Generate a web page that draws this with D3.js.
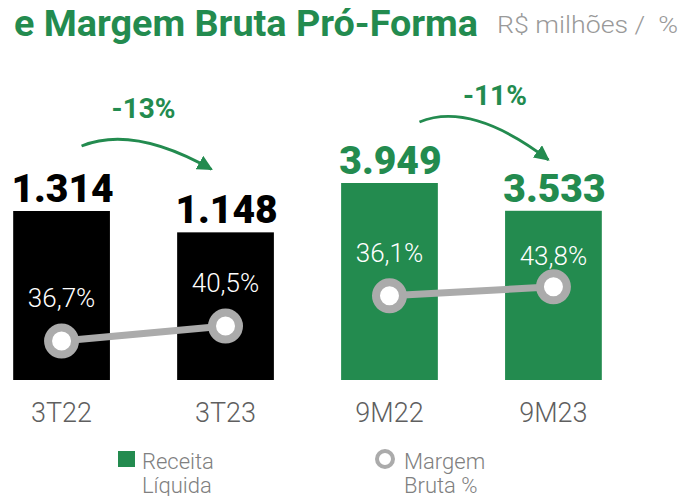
<!DOCTYPE html>
<html>
<head>
<meta charset="utf-8">
<script src="https://cdn.jsdelivr.net/npm/d3@7"></script>
<style>
  html, body { margin: 0; padding: 0; background: #fff; }
  svg { display: block; font-family: Roboto, "Noto Sans", sans-serif; }
</style>
</head>
<body>
<div id="chart"></div>
<script>
// values
var categories = ["3T22", "3T23", "9M22", "9M23"];
var periods = ["3T", "3T", "9M", "9M"];
var receita = [1314, 1148, 3949, 3533];
var receitaLabels = ["1.314", "1.148", "3.949", "3.533"];
var margem = [36.7, 40.5, 36.1, 43.8];
var margemLabels = ["36,7%", "40,5%", "36,1%", "43,8%"];
var variacao = ["-13%", "-11%"];

var green = "#238b4f";
var grey = "#ababab";

var width = 681, height = 496;

var svg = d3.select("#chart").append("svg")
  .attr("width", width)
  .attr("height", height);

// arrow marker
svg.append("defs").append("marker")
  .attr("id", "head")
  .attr("viewBox", "0 0 10 10")
  .attr("refX", 9).attr("refY", 5)
  .attr("markerWidth", 5.5).attr("markerHeight", 5.5)
  .attr("markerUnits", "strokeWidth")
  .attr("orient", "auto")
  .append("path")
  .attr("d", "M0,0 L10,5 L0,10 Z")
  .attr("fill", green);

// title (first line is cut off in the reference)
svg.append("text")
  .attr("x", 14).attr("y", 36)
  .attr("font-size", 37).attr("font-weight", 700)
  .attr("textLength", 464).attr("lengthAdjust", "spacingAndGlyphs")
  .attr("fill", green)
  .text("e Margem Bruta Pró-Forma");

svg.append("text")
  .attr("x", 497).attr("y", 33)
  .attr("font-size", 24).attr("font-weight", 300)
  .attr("textLength", 181).attr("lengthAdjust", "spacingAndGlyphs")
  .style("white-space", "pre")
  .attr("fill", "#999")
  .text("R$ milhões /  %");

// scales: one band scale, a separate value scale per period group
var x = d3.scaleBand()
  .domain(categories)
  .range([-36, 651])
  .paddingInner(0.41)
  .paddingOuter(0.3);

var yBar = {
  "3T": d3.scaleLinear().domain([0, 1314]).range([380, 211]),
  "9M": d3.scaleLinear().domain([1000, 3949]).range([380, 183])
};
var yPct = {
  "3T": d3.scaleLinear().domain([0, 100]).range([486, 91]),
  "9M": d3.scaleLinear().domain([0, 100]).range([338, 221])
};

var rows = categories.map(function(c, i) {
  var g = periods[i];
  return {
    cat: c, group: g, value: receita[i], label: receitaLabels[i],
    pct: margem[i], pctLabel: margemLabels[i],
    cx: x(c) + x.bandwidth() / 2,
    top: yBar[g](receita[i]),
    cy: yPct[g](margem[i]),
    color: g === "3T" ? "#000" : green
  };
});

// bars
svg.selectAll("rect.bar")
  .data(rows)
  .enter().append("rect")
  .attr("class", "bar")
  .attr("x", function(d) { return x(d.cat); })
  .attr("width", x.bandwidth())
  .attr("y", function(d) { return d.top; })
  .attr("height", function(d) { return 380 - d.top; })
  .attr("fill", function(d) { return d.color; });

// value labels
svg.selectAll("text.val")
  .data(rows)
  .enter().append("text")
  .attr("class", "val")
  .attr("x", function(d) { return d.cx + 1; })
  .attr("y", function(d) { return d.top - 9; })
  .attr("text-anchor", "middle")
  .attr("font-size", 39).attr("font-weight", 900)
  .attr("fill", function(d) { return d.color; })
  .text(function(d) { return d.label; });

// category labels
svg.selectAll("text.cat")
  .data(rows)
  .enter().append("text")
  .attr("class", "cat")
  .attr("x", function(d) { return d.cx; })
  .attr("y", 422)
  .attr("text-anchor", "middle")
  .attr("font-size", 27).attr("font-weight", 300)
  .attr("fill", "#5f5f5f")
  .text(function(d) { return d.cat; });

// margin lines per group
["3T", "9M"].forEach(function(g, k) {
  var pts = rows.filter(function(d) { return d.group === g; });
  svg.append("path")
    .attr("d", d3.line().x(function(d) { return d.cx; }).y(function(d) { return d.cy; })(pts))
    .attr("stroke", grey).attr("stroke-width", 7).attr("fill", "none");

  // variation arrow
  var a = pts[0], b = pts[1];
  var s, t, ly;
  if (g === "3T") { s = [a.cx + 20, a.top - 65]; t = [b.cx - 14, b.top - 63]; ly = s[1] - 28; }
  else { s = [a.cx + 30, a.top - 61]; t = [b.cx - 5, b.top - 51]; ly = s[1] - 17; }
  var c = [s[0] + (t[0] - s[0]) * 0.4, s[1] - 21];
  svg.append("path")
    .attr("d", "M" + s + " Q" + c + " " + t)
    .attr("stroke", green).attr("stroke-width", 2.8).attr("fill", "none")
    .attr("marker-end", "url(#head)");

  svg.append("text")
    .attr("x", g === "3T" ? (s[0] + t[0]) / 2 - 3 : (s[0] + t[0]) / 2 + 11)
    .attr("y", ly)
    .attr("text-anchor", "middle")
    .attr("font-size", 28).attr("font-weight", 700)
    .attr("fill", green)
    .text(variacao[k]);
});

// margin markers
svg.selectAll("circle.pt")
  .data(rows)
  .enter().append("circle")
  .attr("class", "pt")
  .attr("cx", function(d) { return d.cx; })
  .attr("cy", function(d) { return d.cy; })
  .attr("r", 13.5)
  .attr("fill", "#fff")
  .attr("stroke", grey).attr("stroke-width", 8);

// margin labels
svg.selectAll("text.pct")
  .data(rows)
  .enter().append("text")
  .attr("class", "pct")
  .attr("x", function(d) { return d.cx; })
  .attr("y", function(d) { return Math.max(d.cy - 34, d.top + 54); })
  .attr("text-anchor", "middle")
  .attr("font-size", 26).attr("font-weight", 300)
  .attr("fill", "#fff")
  .text(function(d) { return d.pctLabel; });

// legend
var legend = svg.append("g").attr("fill", "#808080")
  .attr("font-size", 22).attr("font-weight", 300);

legend.append("rect")
  .attr("x", 118).attr("y", 451).attr("width", 17).attr("height", 16)
  .attr("fill", green);
legend.append("text").attr("x", 142).attr("y", 469).text("Receita");
legend.append("text").attr("x", 142).attr("y", 493).text("Líquida");

legend.append("circle")
  .attr("cx", 385).attr("cy", 459).attr("r", 8)
  .attr("fill", "#fff").attr("stroke", grey).attr("stroke-width", 4);
legend.append("text").attr("x", 404).attr("y", 469).text("Margem");
legend.append("text").attr("x", 404).attr("y", 493).text("Bruta %");
</script>
</body>
</html>
